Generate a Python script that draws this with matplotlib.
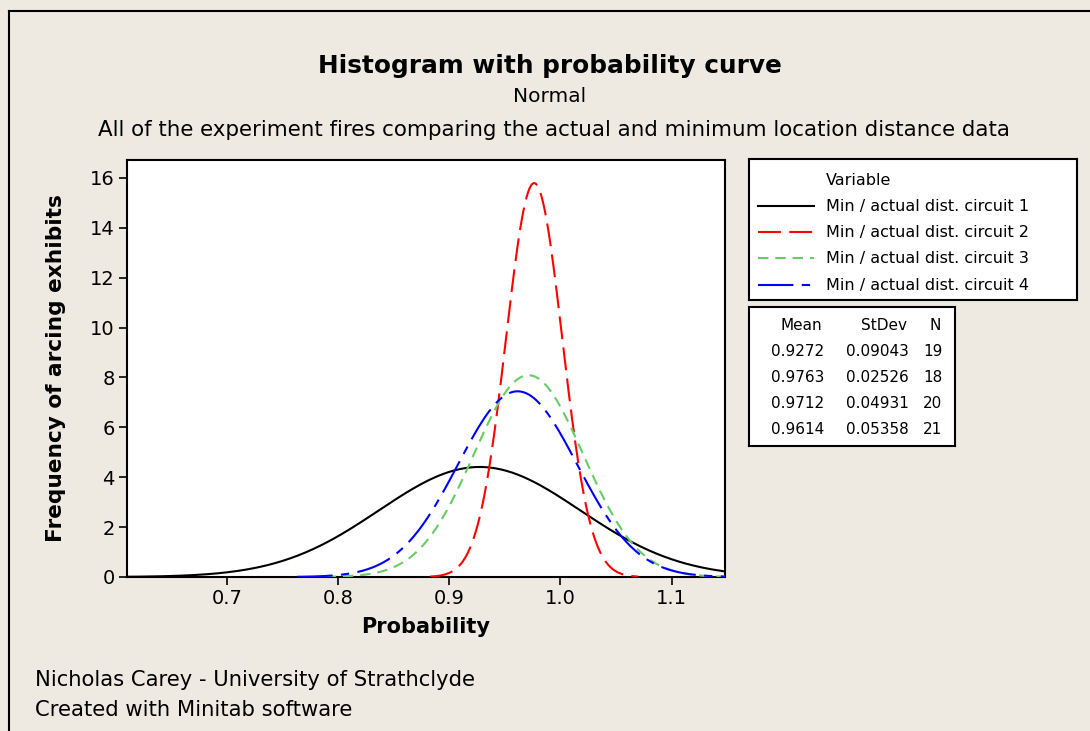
import numpy as np
import matplotlib.pyplot as plt
from matplotlib.lines import Line2D

# stats shown in the Minitab table
labels = ["Min / actual dist. circuit 1", "Min / actual dist. circuit 2",
          "Min / actual dist. circuit 3", "Min / actual dist. circuit 4"]
means = [0.9272, 0.9763, 0.9712, 0.9614]
stdevs = [0.09043, 0.02526, 0.04931, 0.05358]
counts = [19, 18, 20, 21]
colors = ["black", "#ff0000", "#66cc66", "#0000ff"]
dashes = [None, (11, 4), (5, 3.3), (17, 4, 4, 4)]

xticks = [0.7, 0.8, 0.9, 1.0, 1.1]
yticks = [0, 2, 4, 6, 8, 10, 12, 14, 16]

plt.rcParams['font.family'] = 'DejaVu Sans'
bg = "#eeeae1"
W, H = 1090, 731

fig = plt.figure(figsize=(W / 100, H / 100), dpi=100, facecolor=bg)

def box(x0, y0, x1, y1):
    # pixel coords (top-left origin) -> figure fraction rect
    return [x0 / W, 1 - y1 / H, (x1 - x0) / W, (y1 - y0) / H]

# outer frame (cropped on right/bottom)
fig.add_artist(Line2D([9 / W, 9 / W], [0, 1 - 11 / H], color="black", lw=1.5))
fig.add_artist(Line2D([9 / W, 1], [1 - 11 / H, 1 - 11 / H], color="black", lw=1.5))

ax = fig.add_axes(box(127, 160, 725, 577))
ax.set_facecolor("white")
for i in range(4):
    m, s = means[i], stdevs[i]
    x = np.linspace(m - 3.7 * s, m + 3.7 * s, 400)
    y = np.exp(-0.5 * ((x - m) / s) ** 2) / (s * np.sqrt(2 * np.pi))
    ln, = ax.plot(x, y, color=colors[i], lw=1.5, zorder=3 + i)
    if dashes[i] is not None:
        ln.set_dashes(dashes[i])
ax.set_xlim(0.610, 1.148)
ax.set_ylim(0, 16.72)
ax.set_xticks(xticks)
ax.set_xticklabels([f"{t:.1f}" for t in xticks])
ax.set_yticks(yticks)
ax.tick_params(direction="out", length=6, width=1.2, labelsize=14, pad=3)
for sp in ax.spines.values():
    sp.set_linewidth(1.5)
ax.set_xlabel("Probability", fontsize=15, fontweight="bold", labelpad=6)
ax.set_ylabel("Frequency of arcing exhibits", fontsize=15.6, fontweight="bold", labelpad=17)

# titles
fig.text(550 / W, 1 - 66 / H, "Histogram with probability curve", fontsize=17.8,
         fontweight="bold", ha="center", va="center")
fig.text(550 / W, 1 - 97 / H, "Normal", fontsize=14.5, ha="center", va="center")
fig.text(554 / W, 1 - 130 / H,
         "All of the experiment fires comparing the actual and minimum location distance data",
         fontsize=15.4, ha="center", va="center")

# footer
fig.text(35 / W, 1 - 680 / H, "Nicholas Carey - University of Strathclyde", fontsize=15.2,
         ha="left", va="center")
fig.text(35 / W, 1 - 710 / H, "Created with Minitab software", fontsize=15.2,
         ha="left", va="center")

# legend box
lg = fig.add_axes(box(749, 159, 1077, 300))
lg.set_xlim(749, 1077)
lg.set_ylim(300, 159)
lg.set_xticks([])
lg.set_yticks([])
for sp in lg.spines.values():
    sp.set_linewidth(1.5)
lg.text(826, 180, "Variable", fontsize=11.5, va="center")
rows = [206, 232, 258, 285]
for i in range(4):
    ln, = lg.plot([758, 814], [rows[i], rows[i]], color=colors[i], lw=1.5)
    if dashes[i] is not None:
        ln.set_dashes(dashes[i])
    lg.text(826, rows[i], labels[i], fontsize=11.5, va="center")

# stats table
st = fig.add_axes(box(749, 307, 955, 446))
st.set_xlim(749, 955)
st.set_ylim(446, 307)
st.set_xticks([])
st.set_yticks([])
for sp in st.spines.values():
    sp.set_linewidth(1.5)
st.text(801, 325, "Mean", fontsize=11, ha="center", va="center")
st.text(907, 325, "StDev", fontsize=11, ha="right", va="center")
st.text(935, 325, "N", fontsize=11, ha="center", va="center")
srows = [352, 378, 404, 430]
for i in range(4):
    st.text(771, srows[i], f"{means[i]:.4f}", fontsize=11, ha="left", va="center")
    st.text(909, srows[i], f"{stdevs[i]:.5f}", fontsize=11, ha="right", va="center")
    st.text(923, srows[i], str(counts[i]), fontsize=11, ha="left", va="center")

fig.savefig("out.png", dpi=100, facecolor=bg)
